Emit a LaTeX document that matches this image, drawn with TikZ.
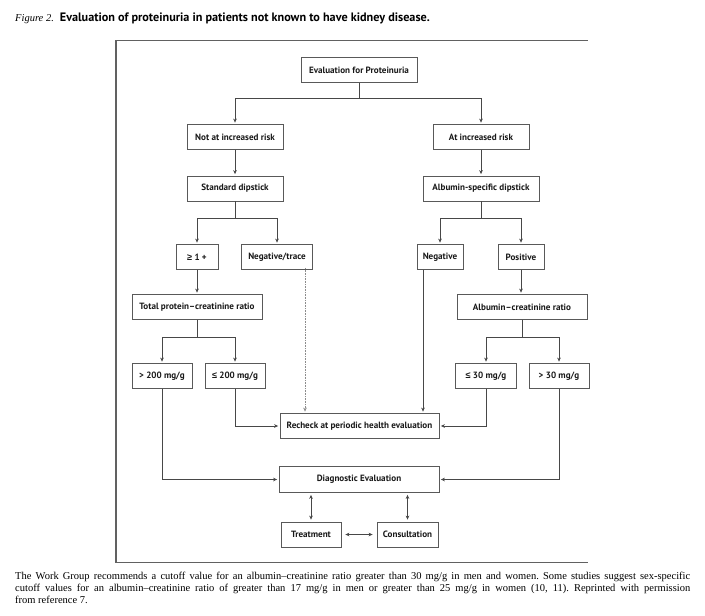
\documentclass[tikz,border=0pt]{standalone}
\usepackage{fontspec}
\setmainfont{Liberation Serif}
\newfontfamily\boxfont{PT Sans}
\newfontfamily\symfont{Liberation Sans}
\usetikzlibrary{arrows.meta}
\begin{document}
\frenchspacing
\begin{tikzpicture}[x=1pt,y=-1pt,
  box/.style={draw=black!65, line width=0.8pt, fill=white, inner sep=0pt,
    minimum height=25pt, text=black!90,
    font=\boxfont\bfseries\fontsize{9.1}{10}\selectfont},
  conn/.style={draw=black!72, line width=0.6pt},
  tip/.tip={Stealth[length=4pt,width=3.6pt]},
  arr/.style={conn, -tip, shorten >=1.5pt},
  darr/.style={conn, tip-tip, shorten >=2pt, shorten <=2pt},
  frame/.style={draw=black!62}]
\useasboundingbox (0,0) rectangle (705,616);
\fill[white] (0,0) rectangle (705,616);

% caption on top
\node[anchor=base west, inner sep=0pt] (title) at (15,21)
  {{\fontsize{10.5}{12}\selectfont\textit{Figure 2.}}\hspace{6pt}{\boxfont\bfseries\fontsize{12.2}{13}\selectfont Evaluation of proteinuria in patients not known to have kidney disease.}};

% frame
\draw[frame, line width=1.8pt] (116,40) -- (116,562);
\draw[frame, line width=0.9pt] (115.1,40) -- (588,40);
\draw[frame, line width=0.9pt] (115.1,562) -- (588,562);

% nodes
\node[box, minimum width=116pt] (eval) at (359,70) {Evaluation for Proteinuria};
\node[box, minimum width=96pt] (notrisk) at (235,137) {Not at increased risk};
\node[box, minimum width=96pt] (atrisk) at (481,137) {At increased risk};
\node[box, minimum width=96pt] (std) at (235,188.5) {Standard dipstick};
\node[box, minimum width=116pt] (alb) at (481,188.5) {Albumin-specific dipstick};
\node[box, minimum width=42pt] (ge1) at (197,257) {{\symfont\bfseries ≥} 1 +};
\node[box, minimum width=71pt] (negtr) at (277,257) {Negative/trace};
\node[box, minimum width=46pt] (neg) at (440,257) {Negative};
\node[box, minimum width=46pt] (pos) at (521,257) {Positive};
\node[box, minimum width=130pt] (tpcr) at (197,307) {Total protein–creatinine ratio};
\node[box, minimum width=130pt] (acr) at (522,307) {Albumin–creatinine ratio};
\node[box, minimum width=60pt] (gt200) at (162,376) {> 200 mg/g};
\node[box, minimum width=60pt] (le200) at (235,376) {{\symfont ≤} 200 mg/g};
\node[box, minimum width=61pt] (le30) at (486,376) {{\symfont ≤} 30 mg/g};
\node[box, minimum width=60pt] (gt30) at (559,376) {> 30 mg/g};
\node[box, minimum width=159pt] (recheck) at (359.5,426) {Recheck at periodic health evaluation};
\node[box, minimum width=160pt, minimum height=26pt] (diag) at (359,479.5) {Diagnostic Evaluation};
\node[box, minimum width=60pt] (treat) at (311,534.5) {Treatment};
\node[box, minimum width=61pt] (consult) at (407.5,534.5) {Consultation};

% junctions
\coordinate (j1) at (359,98);
\coordinate (j2) at (235,218.5);
\coordinate (j3) at (481,218.5);
\coordinate (j4) at (197,337);
\coordinate (j5) at (522,337);

% connectors
\draw[conn] (eval) -- (j1);
\draw[arr] (j1) -| (notrisk.north);
\draw[arr] (j1) -| (atrisk.north);
\draw[arr] (notrisk) -- (std);
\draw[arr] (atrisk) -- (alb);
\draw[conn] (std) -- (j2);
\draw[arr] (j2) -| (ge1.north);
\draw[arr] (j2) -| (negtr.north);
\draw[conn] (alb) -- (j3);
\draw[arr] (j3) -| (neg.north);
\draw[arr] (j3) -| (pos.north);
\draw[arr] (ge1) -- (tpcr);
\draw[arr] (pos) -- (pos |- acr.north);
\draw[conn] (tpcr) -- (j4);
\draw[arr] (j4) -| (gt200.north);
\draw[arr] (j4) -| (le200.north);
\draw[conn] (acr) -- (j5);
\draw[arr] (j5) -| (le30.north);
\draw[arr] (j5) -| (gt30.north);
\draw[arr, draw=black!45, densely dotted] ([xshift=28pt,yshift=2pt]negtr.south) -- ([xshift=28pt]negtr.south |- recheck.north);
\draw[arr] ([xshift=-17pt]neg.south) -- ([xshift=-17pt]neg.south |- recheck.north);
\draw[arr] (le200.south) |- (recheck.west);
\draw[arr] (le30.south) |- (recheck.east);
\draw[arr] (gt200.south) |- (diag.west);
\draw[arr] (gt30.south) |- (diag.east);
\draw[darr] (treat.north) -- (treat.north |- diag.south);
\draw[darr] (consult.north) -- (consult.north |- diag.south);
\draw[darr, shorten >=4pt, shorten <=4pt] (treat.east) -- (consult.west);

% caption at bottom
\node[anchor=north west, inner sep=0pt, text width=675pt, align=justify,
  font=\fontsize{10.5}{12}\selectfont] (note) at (15,572)
  {The Work Group recommends a cutoff value for an albumin–creatinine ratio greater than 30 mg/g in men and women. Some studies suggest sex-specific\linebreak cutoff values for an albumin–creatinine ratio of greater than 17 mg/g in men or greater than 25 mg/g in women (10, 11). Reprinted with permission\linebreak from reference 7.};
\end{tikzpicture}
\end{document}
